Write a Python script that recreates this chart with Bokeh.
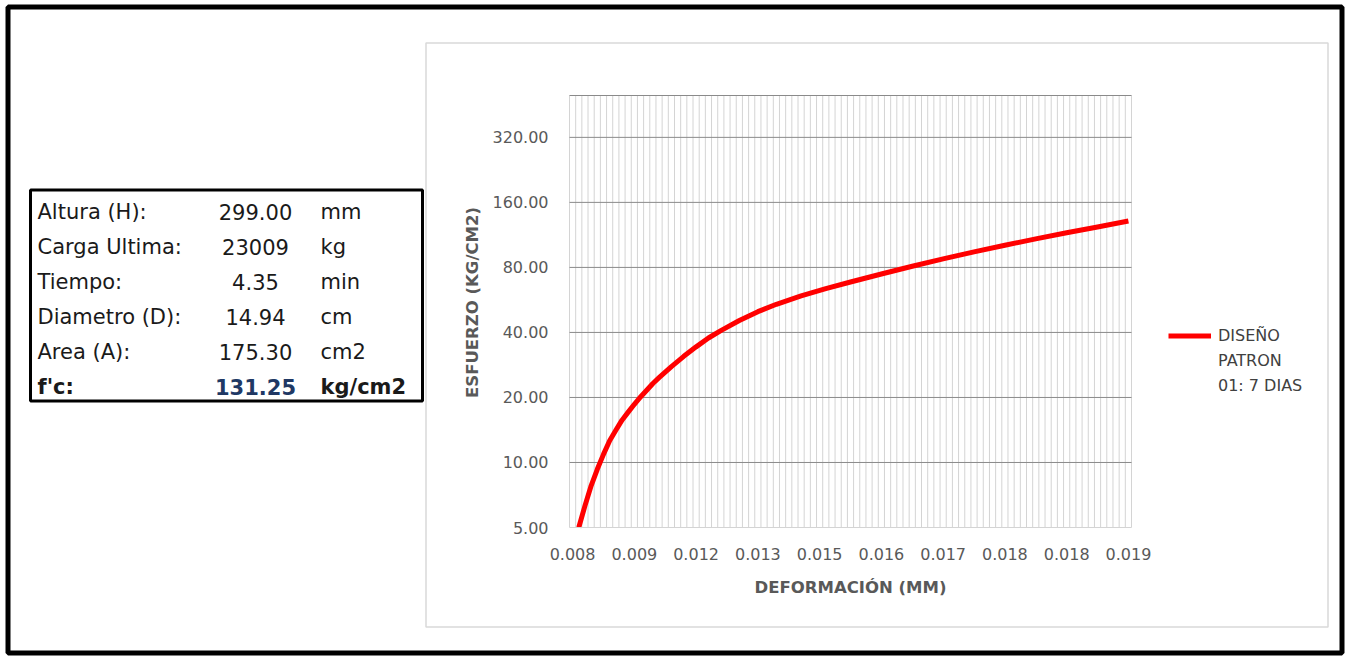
from bokeh.plotting import figure
from bokeh.models import (Range1d, FixedTicker, PrintfTickFormatter, LinearAxis,
                          LogAxis, LogScale, Legend, LegendItem)
from bokeh.core.properties import value
from bokeh.embed import file_html
from bokeh.resources import INLINE
import math

# ---- specimen summary table ----
spec_names = ["Altura (H):", "Carga Ultima:", "Tiempo:", "Diametro (D):", "Area (A):", "f'c:"]
spec_values = ["299.00", "23009", "4.35", "14.94", "175.30", "131.25"]
spec_units = ["mm", "kg", "min", "cm", "cm2", "kg/cm2"]

# ---- stress / strain curve (category axis, 91 readings) ----
n_categories = 91
strain_tick_idx = [0, 10, 20, 30, 40, 50, 60, 70, 80, 90]
strain_tick_labels = ["0.008", "0.009", "0.012", "0.013", "0.015",
                      "0.016", "0.017", "0.018", "0.018", "0.019"]
curve_idx = [1, 2, 3, 4, 5, 6, 7, 8, 9, 10, 11, 12, 13, 14, 16, 18, 20, 22, 24,
             27, 30, 33, 37, 41, 45, 50, 55, 60, 65, 70, 75, 80, 85, 90]
stress = [5.0, 6.3, 7.8, 9.3, 10.9, 12.6, 14.1, 15.7, 17.1, 18.6, 20.1, 21.6,
          23.2, 24.7, 27.8, 31.0, 34.3, 37.7, 40.8, 45.4, 49.9, 54.0, 59.0,
          63.8, 68.5, 74.6, 81.0, 87.6, 94.4, 101.3, 108.4, 115.7, 123.1, 131.25]
stress_ticks = [5, 10, 20, 40, 80, 160, 320]
stress_max = 500
series_lines = ["DISEÑO", "PATRON", "01: 7 DIAS"]
x_title = "DEFORMACIÓN (MM)"
y_title = "ESFUERZO (KG/CM2)"

# ---- page geometry (pixels, y measured downwards) ----
W, H = 1349, 658
FL, FR, FT, FB = 569, 1131, 95, 527       # plot area edges

FONT = "DejaVu Sans"
TICK_COLOR = "#595959"

# The whole page is the drawing frame; the chart lives on extra ranges
# whose extents put the plot area at FL..FR / FT..FB.
ppu = (FR - FL) / n_categories
cat_lo, cat_hi = -0.5, n_categories - 0.5
cat_range = Range1d(cat_lo - FL / ppu, cat_hi + (W - FR) / ppu)

lmin, lmax = math.log10(stress_ticks[0]), math.log10(stress_max)
dec_per_px = (lmax - lmin) / (FB - FT)
stress_range = Range1d(10 ** (lmin - (H - FB) * dec_per_px),
                       10 ** (lmax + FT * dec_per_px))

p = figure(width=W, height=H, x_range=Range1d(0, W), y_range=Range1d(H, 0),
           x_axis_location=None, y_axis_location=None, min_border=0,
           output_backend="svg", toolbar_location=None)
p.outline_line_color = None
p.background_fill_color = "white"
p.border_fill_color = "white"
p.grid.visible = False
p.extra_x_ranges = {"cat": cat_range}
p.extra_y_ranges = {"stress": stress_range}
p.extra_y_scales = {"stress": LogScale()}
ck = dict(x_range_name="cat", y_range_name="stress")

# ---- page decorations ----
p.quad(left=[7.5], right=[1341.5], top=[6.5], bottom=[652.5],
       fill_color=None, line_color="black", line_width=5)
p.quad(left=[425.5], right=[1327.5], top=[42.5], bottom=[626.5],
       fill_color=None, line_color="#d9d9d9", line_width=1.5)
p.quad(left=[30], right=[422], top=[189.5], bottom=[400.5],
       fill_color=None, line_color="black", line_width=3)

# ---- specimen table ----
row_y = [211, 246, 281, 316, 351, 386]
body = slice(0, 5)
tfont = dict(text_font=value(FONT), text_font_size="21px", text_baseline="middle")
p.text(x=[37] * 5, y=row_y[body], text=spec_names[body], text_color="#1a1a1a",
       text_align="left", **tfont)
p.text(x=[255] * 5, y=row_y[body], text=spec_values[body], text_color="#1a1a1a",
       text_align="center", **tfont)
p.text(x=[320] * 5, y=row_y[body], text=spec_units[body], text_color="#1a1a1a",
       text_align="left", **tfont)
p.text(x=[37], y=row_y[5:], text=spec_names[5:], text_color="#1a1a1a",
       text_align="left", text_font_style="bold", **tfont)
p.text(x=[255], y=row_y[5:], text=spec_values[5:], text_color="#203864",
       text_align="center", text_font_style="bold", **tfont)
p.text(x=[320], y=row_y[5:], text=spec_units[5:], text_color="#1a1a1a",
       text_align="left", text_font_style="bold", **tfont)

# ---- chart grid ----
vx = [i - 0.5 for i in range(n_categories + 1)]
p.segment(x0=vx, y0=[stress_ticks[0]] * len(vx), x1=vx, y1=[stress_max] * len(vx),
          line_color="#d4d4d4", line_width=1, **ck)
hy = stress_ticks[1:] + [stress_max]
p.segment(x0=[cat_lo] * len(hy), y0=hy, x1=[cat_hi] * len(hy), y1=hy,
          line_color="#8a8a8a", line_width=1, **ck)

# ---- the curve ----
r = p.line(curve_idx, stress, line_color="#ff0000", line_width=5,
           line_join="round", line_cap="butt", **ck)
# invisible stand-in so the legend text can wrap onto extra rows
r_blank = p.line([], [], line_alpha=0, **ck)

# ---- axes, pinned to the plot area edges ----
xaxis = LinearAxis(fixed_location=stress_ticks[0], bounds=(cat_lo, cat_hi), **ck)
xaxis.ticker = FixedTicker(ticks=strain_tick_idx)
xaxis.major_label_overrides = dict(zip(strain_tick_idx, strain_tick_labels))
xaxis.axis_line_color = "#d4d4d4"
xaxis.major_tick_line_color = None
xaxis.minor_tick_line_color = None
xaxis.major_tick_out = 0
xaxis.major_tick_in = 0
xaxis.major_label_standoff = 20
xaxis.major_label_text_font = FONT
xaxis.major_label_text_font_size = "16px"
xaxis.major_label_text_color = TICK_COLOR
p.add_layout(xaxis, "below")

yaxis = LogAxis(fixed_location=cat_lo, **ck)
yaxis.ticker = FixedTicker(ticks=stress_ticks)
yaxis.formatter = PrintfTickFormatter(format="%.2f")
yaxis.axis_line_color = None
yaxis.major_tick_line_color = None
yaxis.minor_tick_line_color = None
yaxis.major_tick_out = 0
yaxis.major_tick_in = 0
yaxis.major_label_standoff = 21
yaxis.major_label_text_font = FONT
yaxis.major_label_text_font_size = "16px"
yaxis.major_label_text_color = TICK_COLOR
p.add_layout(yaxis, "left")

# axis titles
title_font = dict(text_font=value(FONT), text_font_size="16.5px",
                  text_font_style="bold", text_color=TICK_COLOR,
                  text_align="center", text_baseline="middle")
p.text(x=[(FL + FR) / 2], y=[587], text=[x_title], **title_font)
p.text(x=[472], y=[302], text=[y_title], angle=math.pi / 2, **title_font)

# ---- legend ----
legend = Legend(items=[LegendItem(label=series_lines[0], renderers=[r]),
                       LegendItem(label=series_lines[1], renderers=[r_blank]),
                       LegendItem(label=series_lines[2], renderers=[r_blank])],
                location=(1168, H - 397.5),
                padding=0, margin=0, spacing=0,
                glyph_width=43, glyph_height=25, label_standoff=7,
                border_line_color=None, background_fill_alpha=0,
                label_text_font=FONT, label_text_font_size="16px",
                label_text_color="#404040")
p.add_layout(legend)

open("out.html", "w").write(file_html(p, INLINE))
